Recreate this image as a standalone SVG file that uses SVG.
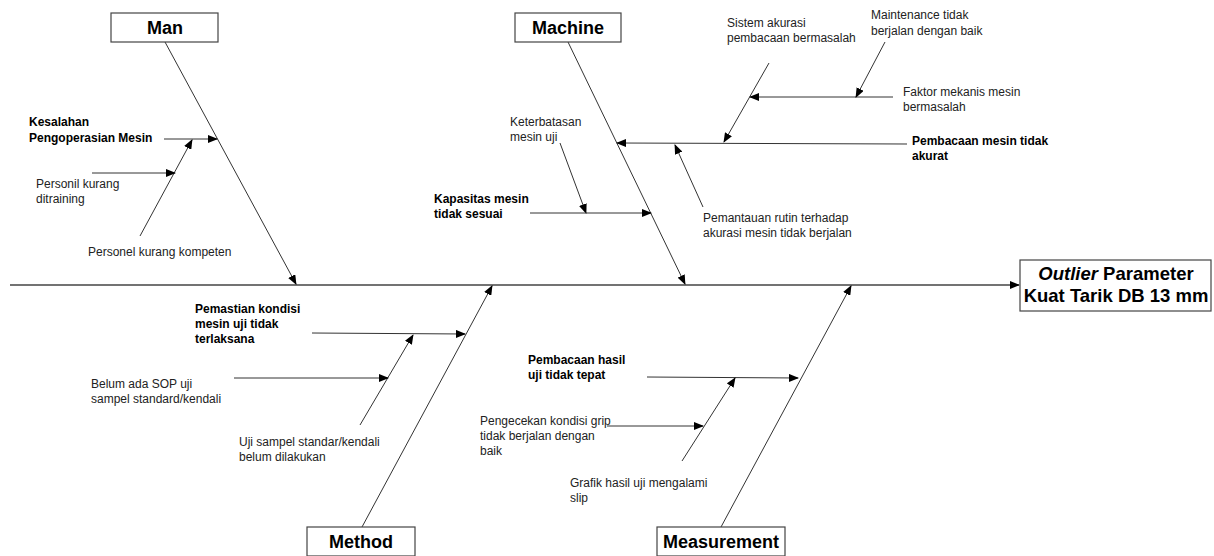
<svg xmlns="http://www.w3.org/2000/svg" width="1214" height="556" viewBox="0 0 1214 556">
<style>
.box{fill:#fff;stroke:#444;stroke-width:1.2}
.ttl{font-family:"Liberation Sans",Arial,sans-serif;font-weight:bold;font-size:18px;fill:#000;text-anchor:middle}
.t{font-family:"Liberation Sans",Arial,sans-serif;font-size:12px;fill:#222}
.b{font-family:"Liberation Sans",Arial,sans-serif;font-size:12px;font-weight:bold;fill:#000}
.ln{stroke:#333;stroke-width:1;fill:none;marker-end:url(#ah)}
.sp{stroke:#444;stroke-width:1.5;fill:none;marker-end:url(#ah)}
.main{font-family:"Liberation Sans",Arial,sans-serif;font-weight:bold;font-size:18.5px;fill:#000;text-anchor:middle}
</style>
<defs>
<marker id="ah" markerWidth="10" markerHeight="8" refX="9" refY="4" orient="auto" markerUnits="userSpaceOnUse">
<path d="M0,0 L10,4 L0,8 Z" fill="#000"/>
</marker>
</defs>
<rect width="1214" height="556" fill="#fff"/>
<g id="connectors">
<line class="sp" x1="10" y1="285" x2="1019" y2="285"/>
<line class="ln" x1="165" y1="42" x2="296" y2="284"/>
<line class="ln" x1="164" y1="139" x2="217" y2="139"/>
<line class="ln" x1="140" y1="236" x2="192" y2="140"/>
<line class="ln" x1="92" y1="173" x2="175" y2="173"/>
<line class="ln" x1="568" y1="42" x2="685" y2="284"/>
<line class="ln" x1="560" y1="143" x2="586" y2="213"/>
<line class="ln" x1="530" y1="213" x2="651" y2="213"/>
<line class="ln" x1="907" y1="144" x2="617" y2="143"/>
<line class="ln" x1="769" y1="63" x2="724" y2="142"/>
<line class="ln" x1="893" y1="97" x2="750" y2="97"/>
<line class="ln" x1="885" y1="42" x2="856" y2="97"/>
<line class="ln" x1="703" y1="207" x2="675" y2="145"/>
<line class="ln" x1="362" y1="527" x2="492" y2="286"/>
<line class="ln" x1="312" y1="333" x2="465" y2="334"/>
<line class="ln" x1="360" y1="425" x2="413" y2="335"/>
<line class="ln" x1="234" y1="378" x2="388" y2="378"/>
<line class="ln" x1="721" y1="527" x2="851" y2="286"/>
<line class="ln" x1="647" y1="377" x2="798" y2="378"/>
<line class="ln" x1="682" y1="461" x2="735" y2="378"/>
<line class="ln" x1="607" y1="426" x2="703" y2="426"/>
</g>
<g id="effect">
<rect class="box" x="1020" y="260" width="191" height="51"/>
<text class="main" x="1116" y="280"><tspan font-style="italic">Outlier</tspan> Parameter</text>
<text class="main" x="1116" y="302">Kuat Tarik DB 13 mm</text>
</g>
<g id="man">
<rect class="box" x="111" y="13" width="107" height="29"/>
<text class="ttl" x="165" y="34">Man</text>
</g>
<g id="machine">
<rect class="box" x="515" y="13" width="106" height="29"/>
<text class="ttl" x="568" y="34">Machine</text>
</g>
<g id="method">
<rect class="box" x="307" y="527" width="108" height="29"/>
<text class="ttl" x="361" y="548">Method</text>
</g>
<g id="measurement">
<rect class="box" x="657" y="527" width="128" height="29"/>
<text class="ttl" x="721" y="548">Measurement</text>
</g>
<g id="kesalahan"><text class="b" x="29" y="126">Kesalahan</text><text class="b" x="29" y="142">Pengoperasian Mesin</text></g>
<g id="personil"><text class="t" x="36" y="188">Personil kurang</text><text class="t" x="36" y="203">ditraining</text></g>
<g id="personel"><text class="t" x="88" y="256">Personel kurang kompeten</text></g>
<g id="keterbatasan"><text class="t" x="510" y="126">Keterbatasan</text><text class="t" x="510" y="141">mesin uji</text></g>
<g id="kapasitas"><text class="b" x="434" y="203">Kapasitas mesin</text><text class="b" x="434" y="218">tidak sesuai</text></g>
<g id="pembacaan-mesin"><text class="b" x="912" y="145">Pembacaan mesin tidak</text><text class="b" x="912" y="160">akurat</text></g>
<g id="sistem"><text class="t" x="727" y="27">Sistem akurasi</text><text class="t" x="727" y="42">pembacaan bermasalah</text></g>
<g id="faktor"><text class="t" x="903" y="96">Faktor mekanis mesin</text><text class="t" x="903" y="111">bermasalah</text></g>
<g id="maintenance"><text class="t" x="871" y="19">Maintenance tidak</text><text class="t" x="871" y="35">berjalan dengan baik</text></g>
<g id="pemantauan"><text class="t" x="703" y="222">Pemantauan rutin terhadap</text><text class="t" x="703" y="237">akurasi mesin tidak berjalan</text></g>
<g id="pemastian"><text class="b" x="195" y="313">Pemastian kondisi</text><text class="b" x="195" y="328">mesin uji tidak</text><text class="b" x="195" y="343">terlaksana</text></g>
<g id="belum-sop"><text class="t" x="91" y="388">Belum ada SOP uji</text><text class="t" x="91" y="403">sampel standard/kendali</text></g>
<g id="uji-sampel"><text class="t" x="239" y="446">Uji sampel standar/kendali</text><text class="t" x="239" y="461">belum dilakukan</text></g>
<g id="pembacaan-hasil"><text class="b" x="528" y="364">Pembacaan hasil</text><text class="b" x="528" y="379">uji tidak tepat</text></g>
<g id="pengecekan"><text class="t" x="480" y="425">Pengecekan kondisi grip</text><text class="t" x="480" y="440">tidak berjalan dengan</text><text class="t" x="480" y="455">baik</text></g>
<g id="grafik"><text class="t" x="570" y="487">Grafik hasil uji mengalami</text><text class="t" x="570" y="502">slip</text></g>
</svg>
